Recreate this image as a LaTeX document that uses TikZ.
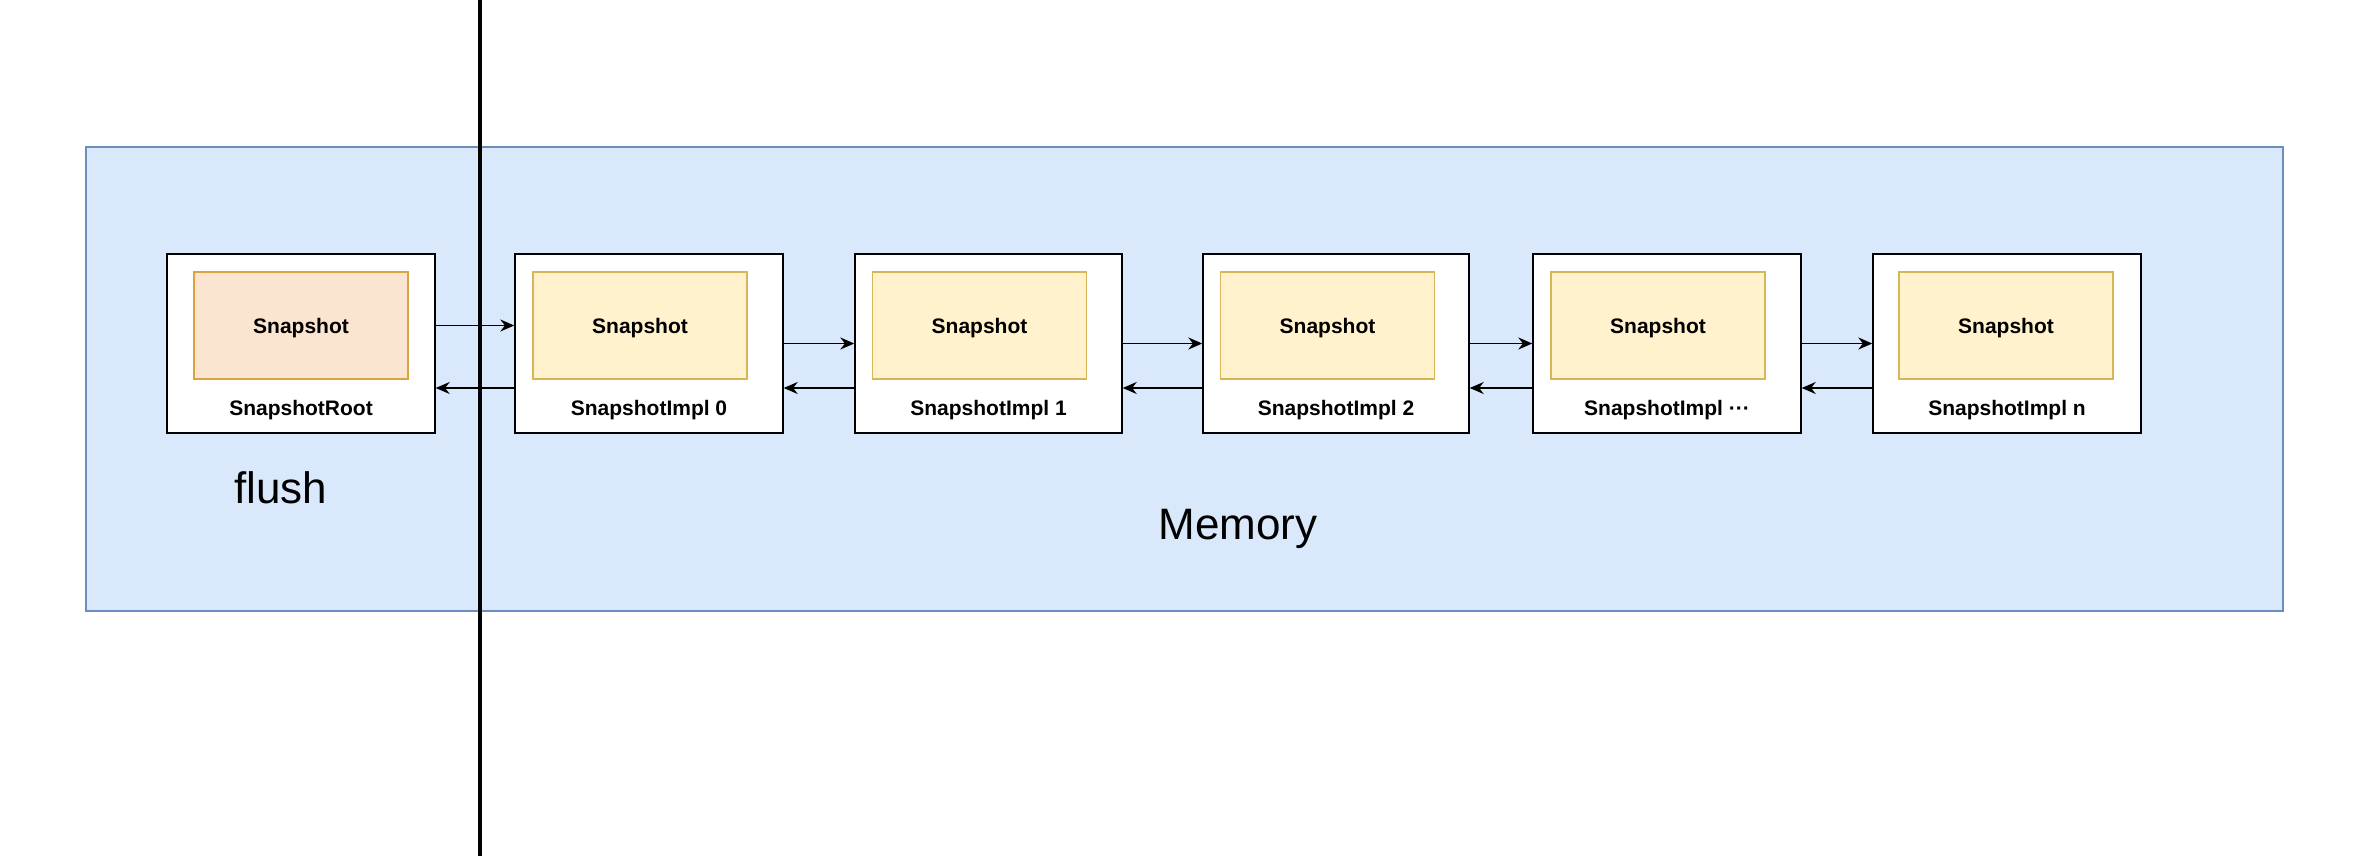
\documentclass[tikz,border=0pt]{standalone}
\usepackage{fontspec}
\setmainfont{Liberation Sans}
\usetikzlibrary{arrows.meta}
\definecolor{memfill}{HTML}{DAE8FC}
\definecolor{memdraw}{HTML}{6C8EBF}
\definecolor{implfill}{HTML}{FFF2CC}
\definecolor{impldraw}{HTML}{D6B656}
\definecolor{rootfill}{HTML}{FBE5D0}
\definecolor{rootdraw}{HTML}{D9A441}
\begin{document}
\begin{tikzpicture}[x=0.5pt,y=-0.5pt,
  membox/.style={draw=memdraw, fill=memfill, line width=0.75pt, inner sep=0pt,
    minimum width=1098.5pt, minimum height=232pt},
  outerbox/.style={draw=black, fill=white, line width=0.7pt, inner sep=0pt,
    minimum width=134pt, minimum height=89.5pt},
  implbox/.style={draw=impldraw, fill=implfill, line width=0.6pt, inner sep=0pt, text depth=0pt,
    minimum width=107pt, minimum height=53.5pt, font=\fontsize{10.5}{12}\selectfont\bfseries},
  rootbox/.style={implbox, draw=rootdraw, fill=rootfill},
  lbl/.style={inner sep=0pt, text depth=0pt, font=\fontsize{10.5}{12}\selectfont\bfseries},
  bigtxt/.style={inner sep=0pt, font=\fontsize{22}{26}\selectfont},
  arr/.style={draw=black, line width=0.7pt, -{Stealth[length=7pt,width=6pt]}}
]
\useasboundingbox (0,0) rectangle (2372,856);
\fill[white] (0,0) rectangle (2372,856);

\node[membox] (mem) at (1184.5,379) {};

\node[outerbox] (b1) at (301,343.5) {};
\node[outerbox] (b2) at (649,343.5) {};
\node[outerbox, minimum width=133.5pt] (b3) at (988.5,343.5) {};
\node[outerbox, minimum width=133pt] (b4) at (1336,343.5) {};
\node[outerbox] (b5) at (1667,343.5) {};
\node[outerbox] (b6) at (2007,343.5) {};

\node[rootbox] (s1) at (301,325.5) {Snapshot};
\node[implbox] (s2) at (640,325.5) {Snapshot};
\node[implbox] (s3) at (979.5,325.5) {Snapshot};
\node[implbox] (s4) at (1327.5,325.5) {Snapshot};
\node[implbox] (s5) at (1658,325.5) {Snapshot};
\node[implbox] (s6) at (2006,325.5) {Snapshot};

\node[lbl] (l1) at (301,408) {SnapshotRoot};
\node[lbl] (l2) at (649,408) {SnapshotImpl 0};
\node[lbl] (l3) at (988.5,408) {SnapshotImpl 1};
\node[lbl] (l4) at (1336,408) {SnapshotImpl 2};
\node[lbl] (l5) at (1667,408) {SnapshotImpl ···};
\node[lbl] (l6) at (2007,408) {SnapshotImpl n};

\node[bigtxt] (flush) at (281,488) {flush};
\node[bigtxt] (memory) at (1238,529) {Memory};

% forward arrows
\draw[arr] (b1.east |- s1.center) -- (b2.west |- s1.center);
\draw[arr] (b2.east) -- (b3.west);
\draw[arr] (b3.east) -- (b4.west);
\draw[arr] (b4.east) -- (b5.west);
\draw[arr] (b5.east) -- (b6.west);
% backward arrows
\draw[arr] ([yshift=-22.25pt]b2.west) -- ([yshift=-22.25pt]b1.east);
\draw[arr] ([yshift=-22.25pt]b3.west) -- ([yshift=-22.25pt]b2.east);
\draw[arr] ([yshift=-22.25pt]b4.west) -- ([yshift=-22.25pt]b3.east);
\draw[arr] ([yshift=-22.25pt]b5.west) -- ([yshift=-22.25pt]b4.east);
\draw[arr] ([yshift=-22.25pt]b6.west) -- ([yshift=-22.25pt]b5.east);

% flush boundary line
\coordinate (ltop) at (480,0);
\coordinate (lbot) at (480,856);
\draw[black, line width=2pt] (ltop) -- (lbot);
\end{tikzpicture}
\end{document}
